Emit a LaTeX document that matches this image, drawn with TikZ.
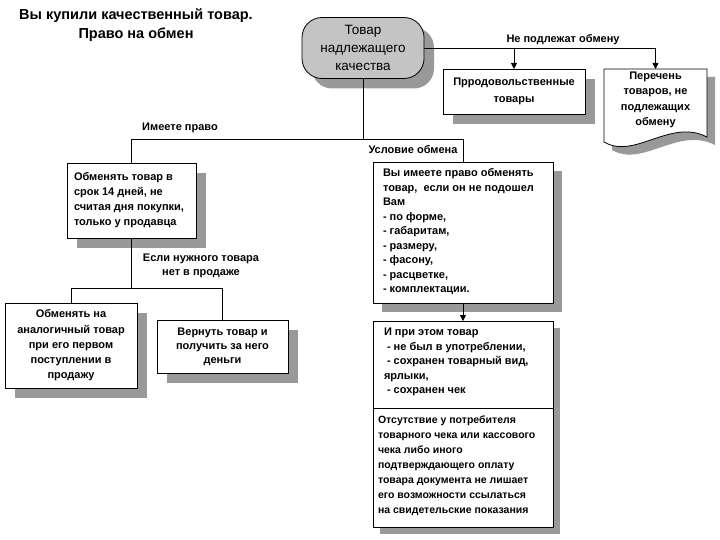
\documentclass[tikz,border=0pt]{standalone}
\usepackage{fontspec}
\setmainfont{Liberation Sans}
\usetikzlibrary{shadows,arrows.meta}
\definecolor{shgray}{HTML}{999999}
\definecolor{topfill}{HTML}{C4C4C4}
\begin{document}
\begin{tikzpicture}[x=1pt,y=-1pt,
  every node/.style={inner sep=0pt, outer sep=0pt},
  shad/.style={drop shadow={shadow xshift=#1, shadow yshift=-#1, fill=shgray, opacity=1}},
  box/.style={draw, fill=white, line width=0.8pt},
  txt/.style={font=\bfseries\fontsize{11}{15}\selectfont},
  conn/.style={line width=0.8pt},
  arr/.style={conn, -{Triangle[length=6pt,width=6pt]}},
]
\fill[white] (0,0) rectangle (720,540);
\useasboundingbox (0,0) rectangle (720,540);

% title
\node[font=\bfseries\fontsize{14.5}{19}\selectfont, align=center] (title) at (136,25)
  {Вы купили качественный товар.\\Право на обмен};

% top node
\node[draw, fill=topfill, line width=0.8pt, rounded corners=20pt, minimum width=122pt,
  minimum height=61pt, shad=10pt, align=center, font=\fontsize{13.5}{18}\selectfont]
  (top) at (363,48) {Товар\\надлежащего\\качества};

% food products
\node[box, shad=10pt, minimum width=142pt, minimum height=45pt, align=center,
  font=\bfseries\fontsize{11}{17}\selectfont] (prod) at (514,91.5)
  {Прродовольственные\\товары};

% document shape
\node[minimum width=103pt, minimum height=74pt] (doc) at (655.5,106) {};
\begin{scope}[shift={(8,8)}]
  \fill[shgray] (604,69) -- (707,69) -- (707,137) .. controls (670,118) and (635,160) .. (604,142) -- cycle;
\end{scope}
\draw[fill=white, line width=0.8pt] (604,69) -- (707,69) -- (707,137) .. controls (670,118) and (635,160) .. (604,142) -- cycle;
\node[align=center, font=\bfseries\fontsize{11}{15.3}\selectfont] (doct) at (655.5,100)
  {Перечень\\товаров, не\\подлежащих\\обмену};

% left branch
\node[box, shad=10pt, minimum width=129pt, minimum height=75pt] (obm) at (131.5,200.5) {};
\node[txt, align=left, anchor=west] (obmt) at (74,200) {Обменять товар в\\срок 14 дней, не\\считая дня покупки,\\только у продавца};

\node[box, shad=10pt, minimum width=132pt, minimum height=85pt, align=center,
  font=\bfseries\fontsize{11}{15.3}\selectfont] (analog) at (71,345.5)
  {Обменять на\\аналогичный товар\\при его первом\\поступлении в\\продажу};

\node[box, shad=10pt, minimum width=131pt, minimum height=53pt, align=center,
  font=\bfseries\fontsize{11}{14}\selectfont] (ret) at (222.5,346.5)
  {Вернуть товар и\\получить за него\\деньги};

% right column
\node[box, shad=9pt, minimum width=180pt, minimum height=141pt] (cond) at (463,232.5) {};
\node[align=left, anchor=west, font=\bfseries\fontsize{11}{14.5}\selectfont] (condt) at (383,232)
  {Вы имеете право обменять\\товар,\ \ если он не подошел\\Вам\\- по форме,\\- габаритам,\\- размеру,\\- фасону,\\- расцветке,\\- комплектации.};

\node[box, shad=7pt, minimum width=180pt, minimum height=87pt] (also) at (463,364.5) {};
\node[align=left, anchor=west, font=\bfseries\fontsize{11}{14.6}\selectfont] (alsot) at (384,362)
  {И при этом товар\\\hspace*{3pt}- не был в употреблении,\\\hspace*{3pt}- сохранен товарный вид,\\ярлыки,\\\hspace*{3pt}- сохранен чек};

\node[box, shad=7pt, minimum width=180pt, minimum height=119pt] (absent) at (463,467.5) {};
\node[align=left, anchor=west, font=\bfseries\fontsize{10.5}{15}\selectfont] (absentt) at (378,465.5)
  {Отсутствие у потребителя\\товарного чека или кассового\\чека либо иного\\подтверждающего оплату\\товара документа не лишает\\его возможности ссылаться\\на свидетельские показания};

% labels
\node[txt] (l1) at (180,128) {Имеете право};
\node[txt] (l2) at (413,150) {Условие обмена};
\node[txt, align=center, font=\bfseries\fontsize{11}{14.5}\selectfont] (l3) at (201,266) {Если нужного товара\\нет в продаже};
\node[txt] (l4) at (563,40) {Не подлежат обмену};

% connectors
\draw[arr] (top.east) -- (top.east -| doc.north) -- (doc.north);
\draw[arr] (top.east -| prod.north) -- (prod.north);
\coordinate (j1) at (363,139);
\draw[conn] (top.south) -- (j1);
\draw[conn] (obm.north) |- (j1 -| cond.north) -- (cond.north);
\coordinate (j2) at (131.5,288);
\draw[conn] (obm.south) -- (j2);
\draw[conn] (analog.north) |- (j2 -| ret.north) -- (ret.north);
\draw[arr] (cond.south) -- (also.north);
\end{tikzpicture}
\end{document}
